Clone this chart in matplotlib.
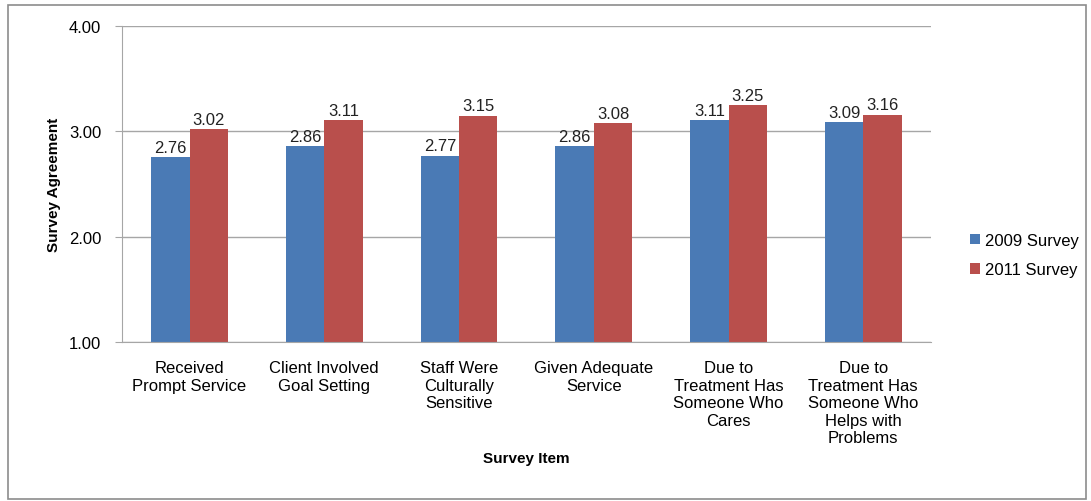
import numpy as np
import matplotlib.pyplot as plt
from matplotlib.patches import Rectangle

# Survey items and mean agreement scores
items = ["Received\nPrompt Service", "Client Involved\nGoal Setting",
         "Staff Were\nCulturally\nSensitive", "Given Adequate\nService",
         "Due to\nTreatment Has\nSomeone Who\nCares",
         "Due to\nTreatment Has\nSomeone Who\nHelps with\nProblems"]
survey_2009 = [2.76, 2.86, 2.77, 2.86, 3.11, 3.09]
survey_2011 = [3.02, 3.11, 3.15, 3.08, 3.25, 3.16]
yticks = [1.0, 2.0, 3.0, 4.0]

plt.rcParams['font.family'] = ['Liberation Sans', 'DejaVu Sans']

fig = plt.figure(figsize=(10.91, 5.02), dpi=100)
ax = fig.add_axes([0.112, 0.317, 0.741, 0.629])

# gray frame round the whole chart
fig.patches.append(Rectangle((0.007, 0.004), 0.988, 0.985, transform=fig.transFigure,
                             fill=False, edgecolor='#8c8c8c', linewidth=1.2))

x = np.arange(len(items))
w = 0.285
b1 = ax.bar(x - w / 2, np.array(survey_2009) - 1, w, bottom=1, color='#4a7ab5', label='2009 Survey')
b2 = ax.bar(x + w / 2, np.array(survey_2011) - 1, w, bottom=1, color='#b94f4c', label='2011 Survey')

for bars, vals in [(b1, survey_2009), (b2, survey_2011)]:
    for r, v in zip(bars, vals):
        ax.text(r.get_x() + r.get_width() / 2, v + 0.02, f'{v:.2f}',
                ha='center', va='bottom', fontsize=12, color='#222222')

ax.set_ylim(1, 4)
ax.set_xlim(-0.5, len(items) - 0.5)
ax.set_yticks(yticks)
ax.set_yticklabels([f'{t:.2f}' for t in yticks], fontsize=12)
ax.yaxis.grid(True, color='#a6a6a6', linewidth=1)
ax.set_axisbelow(True)
ax.set_xticks(x)
ax.set_xticklabels(items, fontsize=12, linespacing=1.22)
ax.tick_params(axis='x', length=0, pad=13)
ax.tick_params(axis='y', length=5, color='#a6a6a6', pad=10)
for s in ['top', 'right']:
    ax.spines[s].set_visible(False)
ax.spines['left'].set_color('#a6a6a6')
ax.spines['bottom'].set_color('#a6a6a6')

ax.set_ylabel('Survey Agreement', fontsize=11, fontweight='bold', labelpad=6)
ax.set_xlabel('Survey Item', fontsize=11, fontweight='bold', labelpad=4)

ax.legend(loc='center left', bbox_to_anchor=(1.03, 0.025, 0.2, 0.5), frameon=False, fontsize=12,
          handlelength=0.6, handleheight=0.6, handletextpad=0.3, labelspacing=0.85)

fig.savefig('out.png', dpi=100)
